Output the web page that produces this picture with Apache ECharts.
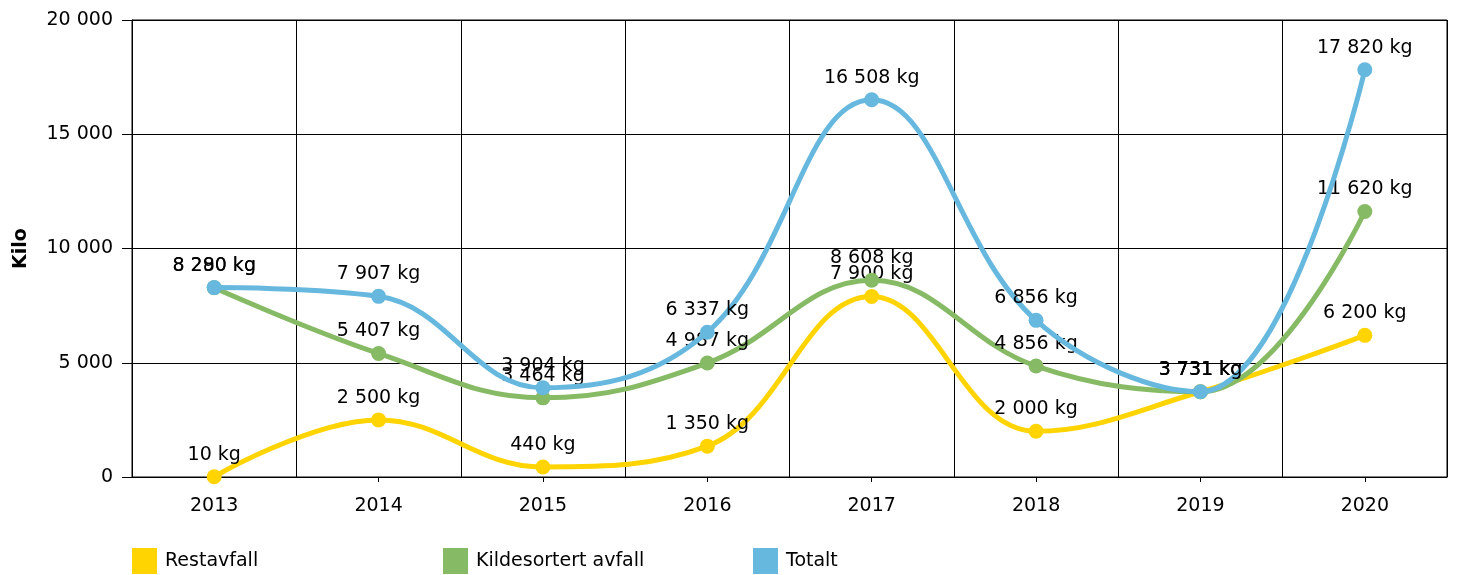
<!DOCTYPE html>
<html>
<head>
<meta charset="utf-8">
<script src="https://cdn.jsdelivr.net/npm/echarts@6/dist/echarts.min.js"></script>
<style>
html,body{margin:0;padding:0;background:#fff;}
#chart{width:1457px;height:575px;}
</style>
</head>
<body>
<div id="chart"></div>
<script>
const categories = ['2013','2014','2015','2016','2017','2018','2019','2020'];
const restavfall = [10, 2500, 440, 1350, 7900, 2000, 3731, 6200];
const kildesortert = [8280, 5407, 3464, 4987, 8608, 4856, 3731, 11620];
const totalt = [8290, 7907, 3904, 6337, 16508, 6856, 3731, 17820];
const seriesNames = ['Restavfall', 'Kildesortert avfall', 'Totalt'];
const colors = ['#FFD400', '#86BA65', '#67B8DE'];
const yTicks = { min: 0, max: 20000, interval: 5000 };

const FONT = 'DejaVu Sans';
const FS = 19;
function fmt(v){ return String(Math.round(v)).replace(/\B(?=(\d{3})+(?!\d))/g, ' '); }

const chart = echarts.init(document.getElementById('chart'), null, {renderer:'canvas'});
const dataSets = [restavfall, kildesortert, totalt];
const legendLefts = [132, 443, 753];

const option = {
  animation: false,
  backgroundColor: '#fff',
  textStyle: { fontFamily: FONT },
  grid: { left: 132, right: 10, top: 20, bottom: 98, show: true, borderColor: '#000', borderWidth: 1, backgroundColor: 'transparent' },
  legend: seriesNames.map((n, i) => ({
    data: [n], left: legendLefts[i], top: 548, itemWidth: 25, itemHeight: 26, icon: 'rect', itemGap: 0,
    textStyle: { fontFamily: FONT, fontSize: FS, color: '#000', padding: [0,0,0,3] }, padding: 0,
    selectedMode: false
  })),
  xAxis: {
    type: 'category', data: categories, boundaryGap: true,
    axisLine: { lineStyle: { color: '#000', width: 1 } },
    axisTick: { show: true, alignWithLabel: true, length: 5, lineStyle: { color: '#000' } },
    axisLabel: { color: '#000', fontFamily: FONT, fontSize: FS, margin: 20 },
    splitLine: { show: true, lineStyle: { color: '#000', width: 1 } }
  },
  yAxis: {
    type: 'value', min: yTicks.min, max: yTicks.max, interval: yTicks.interval,
    name: 'Kilo', nameLocation: 'middle', nameGap: 101, nameRotate: 90,
    nameTextStyle: { fontFamily: FONT, fontSize: FS, fontWeight: 'bold', color: '#000' },
    axisLine: { show: true, lineStyle: { color: '#000', width: 1 } },
    axisTick: { show: true, length: 10, lineStyle: { color: '#000' } },
    axisLabel: { color: '#000', fontFamily: FONT, fontSize: FS, margin: 19, formatter: fmt },
    splitLine: { show: true, lineStyle: { color: '#000', width: 1 } }
  },
  series: seriesNames.map((n, i) => ({
    name: n, type: 'line', data: dataSets[i], smooth: 0.4,
    symbol: 'circle', symbolSize: 15,
    lineStyle: { color: colors[i], width: 5 },
    itemStyle: { color: colors[i] },
    label: { show: true, position: 'top', distance: 5, color: '#000', fontFamily: FONT, fontSize: FS,
      formatter: p => fmt(p.value) + ' kg' },
    z: 2 + i
  }))
};
chart.setOption(option);
</script>
</body>
</html>
